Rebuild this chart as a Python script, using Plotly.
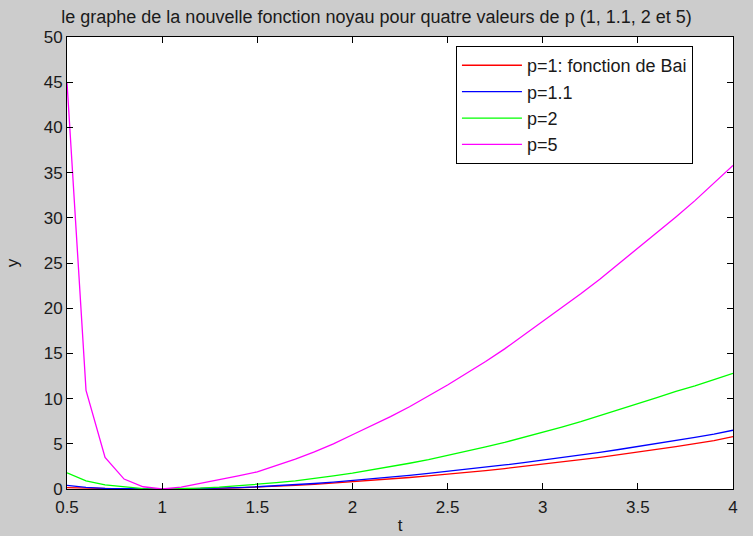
import plotly.graph_objects as go

t = [0.5, 0.6, 0.7, 0.8, 0.9, 1.0, 1.1, 1.2, 1.3, 1.4, 1.5, 1.6, 1.7, 1.8, 1.9, 2.0,
     2.1, 2.2, 2.3, 2.4, 2.5, 2.6, 2.7, 2.8, 2.9, 3.0, 3.1, 3.2, 3.3, 3.4, 3.5, 3.6,
     3.7, 3.8, 3.9, 4.0]

y_p1 = [0.15, 0.08, 0.03, 0.01, 0.0, 0.0, 0.01, 0.03, 0.07, 0.13, 0.2, 0.3, 0.4, 0.52,
        0.66, 0.8, 0.95, 1.1, 1.27, 1.45, 1.63, 1.83, 2.04, 2.26, 2.49, 2.73, 2.98,
        3.24, 3.51, 3.79, 4.08, 4.38, 4.69, 5.01, 5.35, 5.8]
y_p11 = [0.4, 0.18, 0.07, 0.02, 0.0, 0.0, 0.01, 0.04, 0.09, 0.16, 0.25, 0.35, 0.47,
         0.61, 0.77, 0.94, 1.12, 1.31, 1.51, 1.72, 1.94, 2.17, 2.41, 2.66, 2.92, 3.19,
         3.47, 3.76, 4.06, 4.37, 4.69, 5.02, 5.36, 5.71, 6.07, 6.5]
y_p2 = [1.8, 0.9, 0.45, 0.25, 0.05, 0.0, 0.03, 0.1, 0.2, 0.35, 0.5, 0.7, 0.9, 1.15,
        1.45, 1.75, 2.1, 2.45, 2.85, 3.25, 3.7, 4.15, 4.65, 5.15, 5.7, 6.25, 6.85,
        7.45, 8.1, 8.75, 9.4, 10.1, 10.8, 11.4, 12.1, 12.8]
y_p5 = [45.0, 10.9, 3.5, 1.1, 0.25, 0.0, 0.2, 0.6, 1.05, 1.45, 1.9, 2.6, 3.3, 4.1,
        5.0, 6.0, 7.0, 8.0, 9.1, 10.3, 11.5, 12.8, 14.1, 15.5, 17.0, 18.6, 20.1, 21.6,
        23.2, 24.9, 26.6, 28.3, 30.1, 31.9, 33.8, 35.8]

series = [
    ("p=1: fonction de Bai", y_p1, "#ff0000"),
    ("p=1.1", y_p11, "#0000ff"),
    ("p=2", y_p2, "#00ff00"),
    ("p=5", y_p5, "#ff00ff"),
]

x_ticks = [0.5, 1, 1.5, 2, 2.5, 3, 3.5, 4]
x_ticklabels = ["0.5", "1", "1.5", "2", "2.5", "3", "3.5", "4"]
y_ticks = [0, 5, 10, 15, 20, 25, 30, 35, 40, 45, 50]

fig = go.Figure()
for name, ys, col in series:
    fig.add_trace(go.Scatter(x=t, y=ys, mode="lines", name=name,
                             line=dict(color=col, width=1.3)))

font = "Liberation Sans, Arial, sans-serif"
fig.update_layout(
    width=753, height=536,
    margin=dict(l=67, r=20, t=37, b=47, autoexpand=False),
    paper_bgcolor="#cccccc",
    plot_bgcolor="#ffffff",
    font=dict(family=font, size=17, color="#1a1a1a"),
    title=dict(text="le graphe de la nouvelle fonction noyau pour quatre valeurs de p (1, 1.1, 2 et 5)",
               x=0.5, xanchor="center", y=0.968, yanchor="middle",
               font=dict(size=18, family=font, color="#1a1a1a")),
    showlegend=True,
    legend=dict(x=0.584, y=0.98, xanchor="left", yanchor="top",
                bgcolor="#ffffff", bordercolor="#000000", borderwidth=1,
                font=dict(size=18, family=font, color="#1a1a1a"),
                tracegroupgap=0, itemwidth=60),
)
fig.update_xaxes(range=[0.5, 4], tickvals=x_ticks, ticktext=x_ticklabels,
                 ticks="inside", ticklen=6, tickcolor="#000000", tickwidth=1,
                 showline=True, linecolor="#000000", linewidth=1, mirror="ticks",
                 showgrid=False, zeroline=False, automargin=False,
                 ticklabelstandoff=3,
                 title=dict(text="t", standoff=2, font=dict(size=17)))
fig.update_yaxes(range=[0, 50], tickvals=y_ticks,
                 ticks="inside", ticklen=6, tickcolor="#000000", tickwidth=1,
                 showline=True, linecolor="#000000", linewidth=1, mirror="ticks",
                 showgrid=False, zeroline=False, automargin=False,
                 title=dict(text="y", standoff=20, font=dict(size=17)))

fig.write_html("out.html", config={"displayModeBar": False},
               post_script="document.body.style.margin='0';document.body.style.overflow='hidden';")
